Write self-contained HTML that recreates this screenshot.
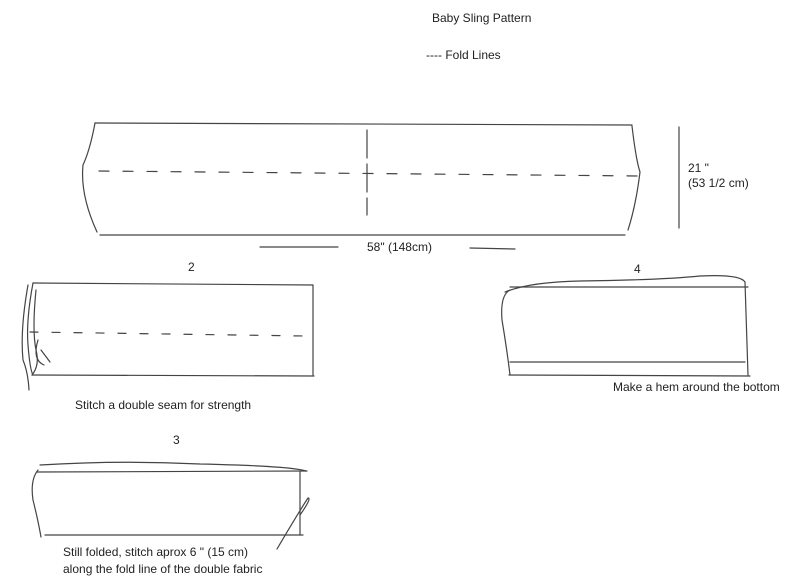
<!DOCTYPE html>
<html><head><style>
html,body{margin:0;padding:0;background:#fff;}
svg{display:block}
text{font-family:"Liberation Sans",sans-serif;fill:#222;}
</style></head><body>
<svg width="800" height="584" viewBox="0 0 800 584" xmlns="http://www.w3.org/2000/svg">
<g stroke="#444" stroke-width="1.2" fill="none" stroke-linecap="round">
<!-- main piece -->
<path d="M95,123 L632,125"/>
<path d="M100,235 L625,235"/>
<path d="M95,123 Q90,150 83,165 Q80,195 97,232"/>
<path d="M632,126 Q636,160 640,172 Q636,205 628,230"/>
<path d="M367,130 L367,215" stroke-dasharray="28,6"/>
<path d="M99,171 L640,176" stroke-dasharray="10,14"/>
<path d="M679,127 L679,228"/>
<path d="M260,247 L338,247"/>
<path d="M470,248 L515,249"/>
<!-- fig 2 -->
<path d="M33,283 L313,285"/>
<path d="M32,375 L314,376"/>
<path d="M313,285 L313,375"/>
<path d="M33,283 Q26,320 28,345 Q30,370 33,375"/>
<path d="M28,285 Q20,330 23,360 Q28,372 29,390"/>
<path d="M36,290 Q32,330 36,350 Q40,365 32,375"/>
<path d="M38,340 Q32,360 44,365 M41,350 L50,362"/>
<path d="M30,332 L305,336" stroke-dasharray="8,14"/>
<!-- fig 4 -->
<path d="M510,287 L748,287"/>
<path d="M505,292 Q530,282 580,281 Q660,280 700,276 Q740,274 745,282 L748,375"/>
<path d="M510,290 Q500,295 502,320 Q507,350 510,375"/>
<path d="M510,362 L745,362"/>
<path d="M509,375 L750,376"/>
<!-- fig 3 -->
<path d="M37,472 L307,471"/>
<path d="M45,535 L303,535"/>
<path d="M300,472 L300,535"/>
<path d="M40,465 Q120,460 200,464 Q290,466 306,471"/>
<path d="M38,470 Q30,480 33,500 Q38,520 41,537"/>
<path d="M277,549 Q300,510 308,498 Q312,498 300,515"/>
</g>
<g font-size="12">
<text x="432" y="22">Baby Sling Pattern</text>
<text x="426" y="59">---- Fold Lines</text>
<text x="688" y="172">21 "</text>
<text x="688" y="187">(53 1/2 cm)</text>
<text x="367" y="251">58" (148cm)</text>
<text x="188" y="271">2</text>
<text x="634" y="273">4</text>
<text x="75" y="409">Stitch a double seam for strength</text>
<text x="613" y="391">Make a hem around the bottom</text>
<text x="173" y="444">3</text>
<text x="63" y="556">Still folded, stitch aprox 6 " (15 cm)</text>
<text x="63" y="573">along the fold line of the double fabric</text>
</g>
</svg>
</body></html>
